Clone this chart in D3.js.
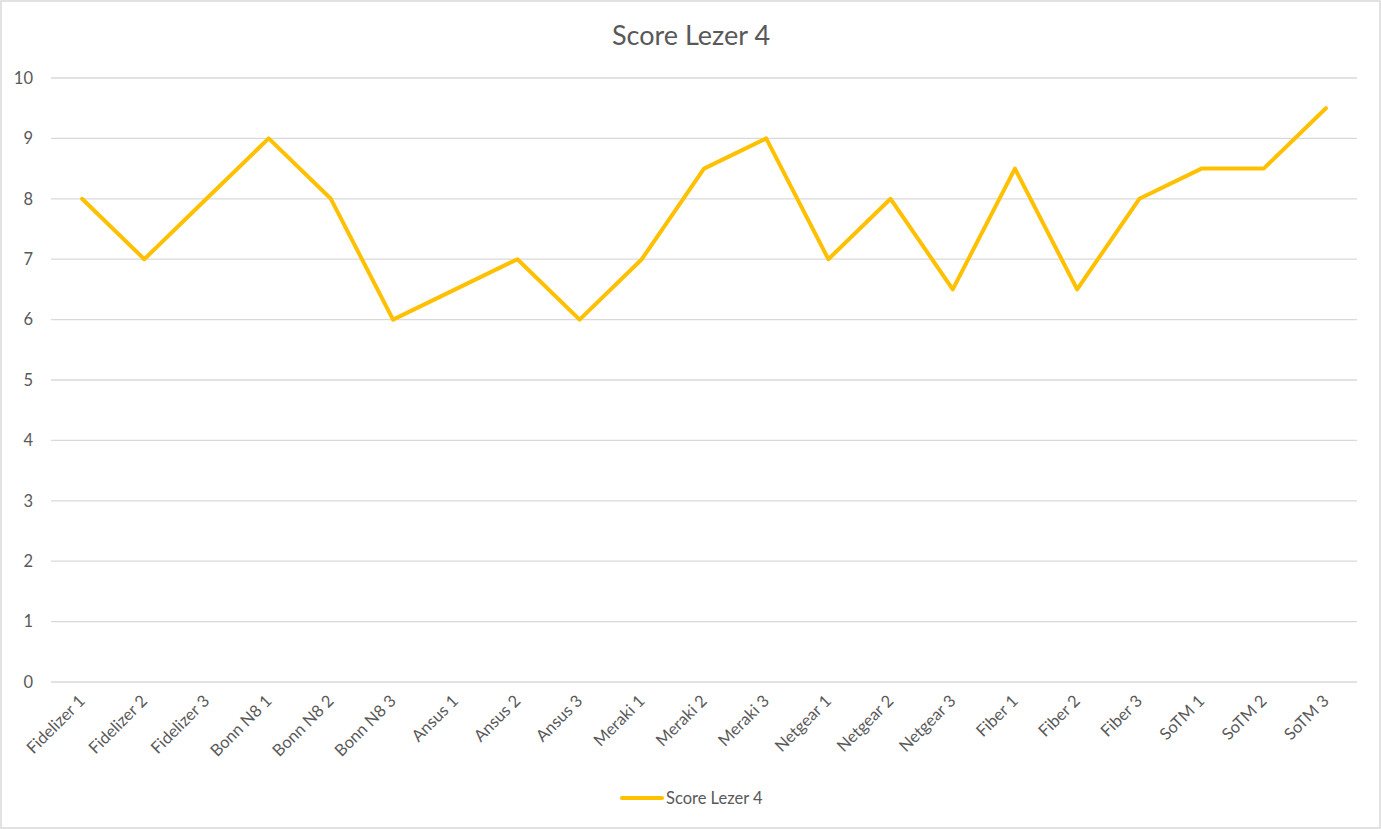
<!DOCTYPE html>
<html><head><meta charset="utf-8">
<script src="https://cdn.jsdelivr.net/npm/d3@7"></script>
<style>body{margin:0;background:#fff}svg{display:block}</style>
</head><body>
<svg id="c" width="1381" height="829"></svg>
<script>
const categories = ["Fidelizer 1","Fidelizer 2","Fidelizer 3","Bonn N8 1","Bonn N8 2","Bonn N8 3","Ansus 1","Ansus 2","Ansus 3","Meraki 1","Meraki 2","Meraki 3","Netgear 1","Netgear 2","Netgear 3","Fiber 1","Fiber 2","Fiber 3","SoTM 1","SoTM 2","SoTM 3"];
const values = [8,7,8,9,8,6,6.5,7,6,7,8.5,9,7,8,6.5,8.5,6.5,8,8.5,8.5,9.5];
const yTicks = [0,1,2,3,4,5,6,7,8,9,10];
const seriesName = "Score Lezer 4";
const title = "Score Lezer 4";

const font = "Lato, 'Open Sans', sans-serif";
const svg = d3.select("#c");
svg.append("rect").attr("x",1).attr("y",1).attr("width",1379).attr("height",827)
  .attr("fill","#fff").attr("stroke","#d9d9d9").attr("stroke-width",1.5);

const x = d3.scaleBand().domain(categories).range([51,1357]);
const y = d3.scaleLinear().domain([0,10]).range([682,78]);

const grid = svg.append("g");
grid.selectAll("line").data(yTicks).join("line")
  .attr("x1",51).attr("x2",1357)
  .attr("y1",d=>y(d)).attr("y2",d=>y(d))
  .attr("stroke","#d9d9d9").attr("stroke-width",1.3);

const yAxis = d3.axisLeft(y).tickValues(yTicks).tickSize(0).tickPadding(0);
const ya = svg.append("g").attr("transform","translate(33,0)").call(yAxis);
ya.select(".domain").remove();
ya.selectAll("text").attr("font-family",font).attr("font-size",16.5).attr("fill","#595959");

const xAxis = d3.axisBottom(x).tickSize(0).tickPadding(0);
const xa = svg.append("g").attr("transform","translate(0,682)").call(xAxis);
xa.select(".domain").remove();
xa.selectAll("text")
  .attr("font-family",font).attr("font-size",16.5).attr("fill","#595959")
  .attr("text-anchor","end").attr("dy",null).attr("y",0)
  .attr("transform","translate(4,20) rotate(-45)");

const line = d3.line().x((d,i)=>x(categories[i])+x.bandwidth()/2).y(d=>y(d));
svg.append("path").datum(values).attr("d",line)
  .attr("fill","none").attr("stroke","#FFC000").attr("stroke-width",4)
  .attr("stroke-linejoin","round").attr("stroke-linecap","round");

svg.append("text").attr("x",691).attr("y",45).attr("text-anchor","middle")
  .attr("font-family",font).attr("font-size",27).attr("fill","#595959").text(title);

const lg = svg.append("g");
lg.append("line").attr("x1",622).attr("x2",662).attr("y1",798).attr("y2",798)
  .attr("stroke","#FFC000").attr("stroke-width",4).attr("stroke-linecap","round");
lg.append("text").attr("x",666).attr("y",804).attr("font-family",font).attr("font-size",16.5)
  .attr("fill","#595959").text(seriesName);
</script>
</body></html>
